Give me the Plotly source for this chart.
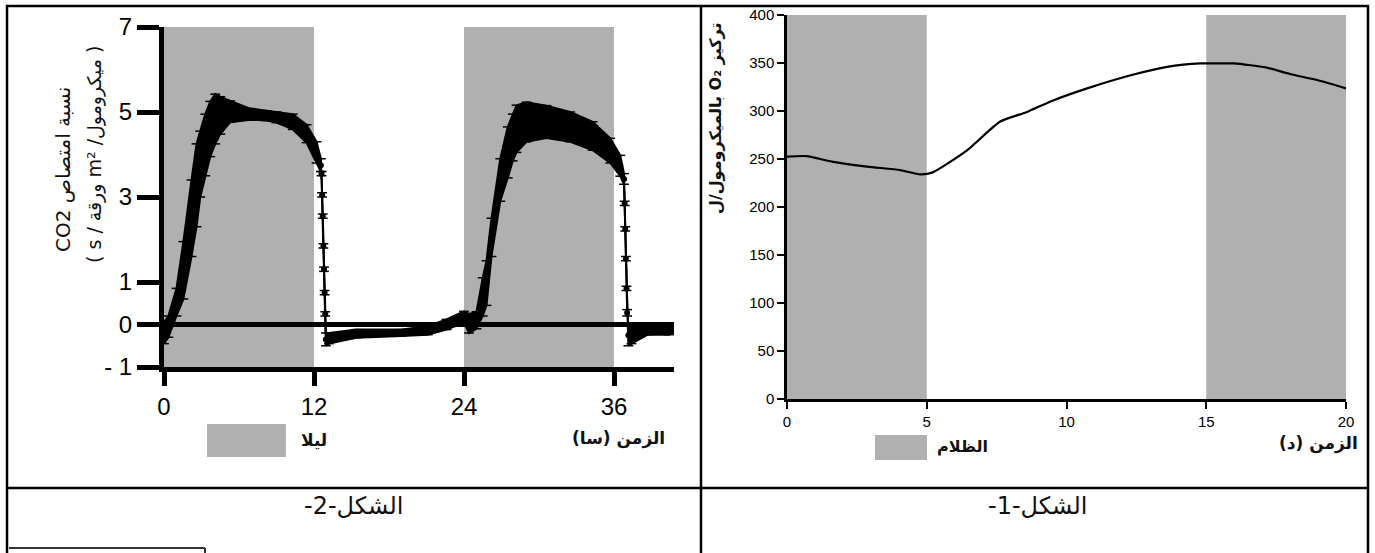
import plotly.graph_objects as go

# ---------------- data: figure 2 (CO2 uptake) ----------------
co2_t = [0.0, 0.35, 1.0, 1.55, 2.2, 2.6, 2.9, 3.3, 3.7, 4.1, 4.5, 5.3, 6.9, 8.2, 9.0, 10.3, 11.4, 12.2, 12.55,
         12.6, 12.65, 12.7, 12.75, 12.8, 12.85, 12.9, 12.95, 13.2,
         15.4, 19.0, 21.1, 22.6, 24.0, 24.4, 25.0, 25.5, 25.8, 26.2, 26.9, 27.5, 27.9, 28.2, 29.0, 30.6, 32.5,
         34.3, 35.7, 36.5, 36.8,
         36.85, 36.9, 36.95, 37.0, 37.05, 37.15, 37.4, 38.7, 40.4, 40.8]
co2_low = [-0.45, -0.3, 0.2, 0.6, 1.6, 2.3, 3.0, 3.5, 3.95, 4.25, 4.48, 4.76, 4.82, 4.8, 4.75, 4.59, 4.28, 3.8, 3.6,
           3.5, 3.0, 2.5, 1.8, 1.25, 0.7, 0.2, -0.5, -0.45,
           -0.31, -0.27, -0.24, -0.12, 0.04, -0.2, -0.1, 0.2, 0.45, 1.6, 2.9, 3.45, 3.85, 4.05, 4.3, 4.39, 4.3,
           4.1, 3.8, 3.49, 3.3,
           2.8, 2.2, 1.5, 0.8, 0.2, -0.5, -0.45, -0.24, -0.24, -0.2]
co2_high = [0.05, 0.2, 0.85, 1.95, 3.4, 4.25, 4.55, 4.95, 5.25, 5.42, 5.36, 5.26, 5.08, 5.03, 5.0, 4.95, 4.7, 4.3, 3.9,
            3.6, 3.1, 2.6, 1.9, 1.35, 0.8, 0.3, -0.2, -0.2,
            -0.12, -0.12, -0.04, 0.12, 0.31, 0.25, 0.3, 1.1, 1.5, 2.5, 3.9, 4.65, 4.95, 5.16, 5.23, 5.15, 5.0,
            4.77, 4.38, 3.98, 3.55,
            2.9, 2.3, 1.6, 0.9, 0.35, 0.0, -0.05, -0.04, -0.04, -0.05]
co2_mean = [(a + b) / 2 for a, b in zip(co2_low, co2_high)]
night_start = [0, 24]
night_end = [12, 36]
co2_xticks = [0, 12, 24, 36]
co2_yticks = [-1, 0, 1, 3, 5, 7]
co2_yticklabels = ["- 1", "0", "1", "3", "5", "7"]

# ---------------- data: figure 1 (O2 concentration) ----------------
o2_t = [0.0, 0.7, 1.65, 2.87, 4.05, 4.77, 5.19, 6.44, 7.63, 8.59, 9.43, 10.74, 12.4, 13.6, 14.8, 15.5,
        16.0, 17.2, 18.0, 19.0, 20.0]
o2_val = [252.5, 253, 247, 242, 238.5, 234, 235.8, 259, 289, 299, 310, 323.6, 338, 346, 349.6, 349.6,
          349.6, 345, 338.5, 332, 323.6]
dark_start = [0, 15]
dark_end = [5, 20]
o2_xticks = [0, 5, 10, 15, 20]
o2_yticks = [0, 50, 100, 150, 200, 250, 300, 350, 400]

W, H = 1375, 553
GRAY = "#b0b0b0"


def px(x):
    return x / W


def py(y):
    return 1 - y / H


fig = go.Figure()

# CO2 band (mean +/- error envelope)
fig.add_trace(go.Scatter(x=co2_t, y=co2_low, mode="lines+markers", line=dict(color="black", width=2),
                         marker=dict(symbol="line-ew", size=7, line=dict(color="black", width=1.5)),
                         xaxis="x", yaxis="y", showlegend=False, hoverinfo="skip"))
fig.add_trace(go.Scatter(x=co2_t, y=co2_high, mode="lines+markers", line=dict(color="black", width=2),
                         marker=dict(symbol="line-ew", size=7, line=dict(color="black", width=1.5)),
                         fill="tonexty", fillcolor="black",
                         xaxis="x", yaxis="y", showlegend=False, hoverinfo="skip"))
fig.add_trace(go.Scatter(x=co2_t, y=co2_mean, mode="lines+markers",
                         line=dict(color="black", width=1.5),
                         marker=dict(color="black", size=6, symbol="circle"),
                         xaxis="x", yaxis="y", showlegend=False))

# O2 line
fig.add_trace(go.Scatter(x=o2_t, y=o2_val, mode="lines", line=dict(color="black", width=2.2, shape="spline",
                                                                   smoothing=0.6),
                         xaxis="x2", yaxis="y2", showlegend=False))

shapes = []
for a, b in zip(night_start, night_end):
    shapes.append(dict(type="rect", xref="x", yref="y", x0=a, x1=b, y0=-1, y1=7,
                       fillcolor=GRAY, line=dict(width=0), layer="below"))
for a, b in zip(dark_start, dark_end):
    shapes.append(dict(type="rect", xref="x2", yref="y2", x0=a, x1=b, y0=0, y1=400,
                       fillcolor=GRAY, line=dict(width=0), layer="below"))


def pline(x0, y0, x1, y1, w=2.5, color="black"):
    shapes.append(dict(type="line", xref="paper", yref="paper", x0=px(x0), y0=py(y0), x1=px(x1), y1=py(y1),
                       line=dict(color=color, width=w)))


# table borders
pline(6, 6, 1369, 6)
pline(7, 5, 7, 553)
pline(1368, 5, 1368, 553)
pline(701, 5, 701, 553)
pline(6, 488, 1369, 488)
pline(9, 548, 205, 548, w=2, color="#333")
pline(205, 548, 205, 553, w=2, color="#333")

# legend boxes
shapes.append(dict(type="rect", xref="paper", yref="paper", x0=px(207), x1=px(286), y0=py(457), y1=py(424),
                   fillcolor=GRAY, line=dict(width=0)))
shapes.append(dict(type="rect", xref="paper", yref="paper", x0=px(875), x1=px(927), y0=py(460), y1=py(435),
                   fillcolor=GRAY, line=dict(width=0)))

RLE, PDF = "\u202B", "\u202C"
AR = "DejaVu Sans"


def ann(x, y, text, size, bold=False, angle=0, xanchor="center", family=AR):
    t = RLE + text + PDF
    if bold:
        t = "<b>" + t + "</b>"
    return dict(xref="paper", yref="paper", x=px(x), y=py(y), text=t, showarrow=False,
                font=dict(family=family, size=size, color="#111"), textangle=angle,
                xanchor=xanchor, yanchor="middle")


annotations = [
    ann(63, 170, "نسبة امتصاص CO2", 20, angle=-90),
    ann(95, 155, "( ميكرومول/ m² ورقة / s )", 19, angle=-90),
    ann(715, 118, "تركيز O₂ بالميكرومول/ل", 16, bold=True, angle=-90),
    ann(314, 440, "ليلا", 17, bold=True),
    ann(618, 438, "الزمن (سا)", 17, bold=True),
    ann(962, 447, "الظلام", 16, bold=True),
    ann(1318, 443, "الزمن (د)", 17, bold=True),
    ann(353, 506, "الشكل-2-", 24),
    ann(1037, 506, "الشكل-1-", 24),
]

fig.update_layout(
    width=W, height=H, margin=dict(l=0, r=0, t=0, b=0, autoexpand=False),
    paper_bgcolor="white", plot_bgcolor="rgba(0,0,0,0)",
    shapes=shapes, annotations=annotations, showlegend=False,
    xaxis=dict(domain=[px(164), px(674)], range=[0, 40.8], anchor="y",
               tickvals=co2_xticks, ticks="outside", ticklen=14, tickwidth=5, tickcolor="black",
               showline=True, linewidth=5, linecolor="black", showgrid=False, zeroline=False,
               tickfont=dict(family="Liberation Sans", size=24, color="black")),
    yaxis=dict(domain=[py(367), py(27)], range=[-1, 7], anchor="x",
               tickvals=co2_yticks, ticktext=co2_yticklabels, ticks="outside", ticklen=22, tickwidth=5,
               tickcolor="black", showline=True, linewidth=5, linecolor="black", showgrid=False,
               zeroline=True, zerolinewidth=5, zerolinecolor="black",
               tickfont=dict(family="Liberation Sans", size=24, color="black")),
    xaxis2=dict(domain=[px(787), px(1346)], range=[0, 20], anchor="y2",
                tickvals=o2_xticks, ticks="outside", ticklen=7, tickwidth=2, tickcolor="black",
                showline=True, linewidth=2.5, linecolor="black", showgrid=False, zeroline=False,
                tickfont=dict(family="Liberation Sans", size=15, color="black")),
    yaxis2=dict(domain=[py(399), py(15)], range=[0, 400], anchor="x2",
                tickvals=o2_yticks, ticks="outside", ticklen=7, tickwidth=2, tickcolor="black",
                showline=True, linewidth=2.5, linecolor="black", showgrid=False, zeroline=False,
                tickfont=dict(family="Liberation Sans", size=15, color="black")),
)

fig.write_html("out.html", config={"displayModeBar": False},
               post_script="document.body.style.margin='0';document.body.style.overflow='hidden';")
